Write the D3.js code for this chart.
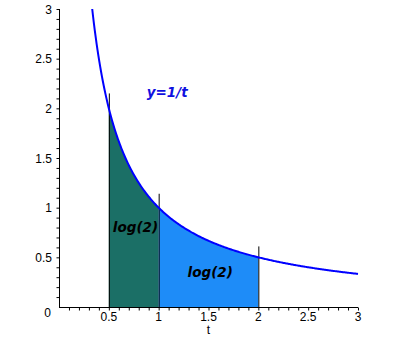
<!DOCTYPE html>
<html>
<head>
<meta charset="utf-8">
<script src="https://cdn.jsdelivr.net/npm/d3@7"></script>
<style>
  body { margin: 0; background: #fff; }
  svg { display: block; }
</style>
</head>
<body>
<svg width="401" height="337"></svg>
<script>
const width = 401;
const height = 337;

// axis ticks
const xTicks = [0.5, 1, 1.5, 2, 2.5, 3];
const yTicks = [0, 0.5, 1, 1.5, 2, 2.5, 3];

// the curve y = 1/t, sampled from t = 1/3 (y = 3) to t = 3
const tStart = 1 / 3;
const tEnd = 3;
const curveSteps = 300;

// shaded intervals under the curve
const regions = [
  { from: 0.5, to: 1, color: '#1b6f66' },
  { from: 1, to: 2, color: '#1e8cf8' }
];

// vertical marker lines: position and top value
const markerT = [0.5, 1, 2];
const markerTop = [2.15, 1.14, 0.61];

// annotations
const labels = [
  { text: 'y=1/t', t: 0.88, y: 2.11, color: '#1010e0' },
  { text: 'log(2)', t: 0.54, y: 0.76, color: '#000' },
  { text: 'log(2)', t: 1.29, y: 0.30, color: '#000' }
];

const x = d3.scaleLinear().domain([0, 3]).range([59, 358]);
const y = d3.scaleLinear().domain([0, 3]).range([307, 9]);

const svg = d3.select('svg');

const f = t => 1 / t;
const curvePts = d3.range(curveSteps + 1).map(i => {
  const t = tStart + (tEnd - tStart) * i / curveSteps;
  return [t, f(t)];
});

// shaded areas
const area = d3.area()
  .x(d => x(d[0]))
  .y0(y(0))
  .y1(d => y(d[1]));

regions.forEach(r => {
  const pts = d3.range(101).map(i => {
    const t = r.from + (r.to - r.from) * i / 100;
    return [t, f(t)];
  });
  svg.append('path')
    .attr('d', area(pts))
    .attr('fill', r.color);
});

// marker lines
svg.selectAll('.marker')
  .data(markerT)
  .enter()
  .append('line')
  .attr('class', 'marker')
  .attr('x1', d => x(d) + 0.5)
  .attr('x2', d => x(d) + 0.5)
  .attr('y1', y(0))
  .attr('y2', (d, i) => y(markerTop[i]))
  .attr('stroke', '#000')
  .attr('stroke-width', 1);

// the curve
svg.append('path')
  .attr('d', d3.line().x(d => x(d[0])).y(d => y(d[1]))(curvePts))
  .attr('fill', 'none')
  .attr('stroke', '#0000ff')
  .attr('stroke-width', 2);

// axes
const axisColor = '#000';
const tickFont = '"Liberation Sans", Arial, sans-serif';

const xAxis = d3.axisBottom(x)
  .tickValues(d3.range(1, 31).map(i => i / 10))
  .tickSize(3)
  .tickFormat('');
svg.append('g')
  .attr('transform', `translate(0,${y(0) + 0.5})`)
  .call(xAxis)
  .call(g => g.select('.domain').attr('d', `M${x(0)},0H${x(3)}`));

const yAxis = d3.axisLeft(y)
  .tickValues(d3.range(1, 31).map(i => i / 10))
  .tickSize(3)
  .tickFormat('');
svg.append('g')
  .attr('transform', `translate(${x(0) + 0.5},0)`)
  .call(yAxis)
  .call(g => g.select('.domain').attr('d', `M0,${y(0)}V${y(3)}`));

svg.selectAll('.tick line').attr('stroke', axisColor);
svg.selectAll('.domain').attr('stroke', axisColor);

// tick labels
svg.selectAll('.xlab')
  .data(xTicks)
  .enter()
  .append('text')
  .attr('class', 'xlab')
  .attr('x', d => x(d))
  .attr('y', 321)
  .attr('text-anchor', 'middle')
  .attr('font-family', tickFont)
  .attr('font-size', 12)
  .text(d => d);

svg.selectAll('.ylab')
  .data(yTicks)
  .enter()
  .append('text')
  .attr('class', 'ylab')
  .attr('x', d => d === 0 ? 51 : 52)
  .attr('y', d => d === 0 ? 317 : y(d) + 4.5)
  .attr('text-anchor', 'end')
  .attr('font-family', tickFont)
  .attr('font-size', 12)
  .text(d => d);

svg.append('text')
  .attr('x', x(1.5))
  .attr('y', 334)
  .attr('text-anchor', 'middle')
  .attr('font-family', tickFont)
  .attr('font-size', 12)
  .text('t');

// annotations
svg.selectAll('.note')
  .data(labels)
  .enter()
  .append('text')
  .attr('class', 'note')
  .attr('x', d => x(d.t))
  .attr('y', d => y(d.y))
  .attr('fill', d => d.color)
  .attr('font-family', '"DejaVu Sans", sans-serif')
  .attr('font-weight', 'bold')
  .attr('font-style', 'italic')
  .attr('font-size', 13.5)
  .text(d => d.text);
</script>
</body>
</html>
